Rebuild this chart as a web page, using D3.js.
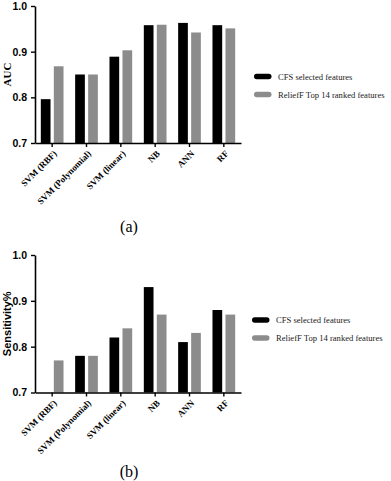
<!DOCTYPE html>
<html><head><meta charset="utf-8">
<script src="https://cdn.jsdelivr.net/npm/d3@7"></script>
<style>body{margin:0;background:#fff}svg{display:block}</style>
</head><body>
<svg id="c" width="391" height="481"></svg>
<script>
const categories = ["SVM (RBF)", "SVM (Polynomial)", "SVM (linear)", "NB", "ANN", "RF"];
const seriesNames = ["CFS selected features", "ReliefF Top 14 ranked features"];
const aucCFS = [0.796, 0.850, 0.889, 0.958, 0.963, 0.958];
const aucRelief = [0.868, 0.850, 0.903, 0.959, 0.942, 0.951];
const sensCFS = [0.70, 0.78, 0.82, 0.93, 0.81, 0.88];
const sensRelief = [0.77, 0.78, 0.84, 0.87, 0.83, 0.87];
const yTicks = [0.7, 0.8, 0.9, 1.0];
const colors = ["#000000", "#8c8c8c"];

const SERIF = "'Liberation Serif', 'Times New Roman', serif";
const SANS = "'Liberation Sans', Arial, sans-serif";
const svg = d3.select("#c");

function panel(opt) {
  const g = svg.append("g");
  const x = d3.scaleBand().domain(categories).range([35, 241]).padding(0);
  const y = d3.scaleLinear().domain([0.7, 1.0]).range([opt.bottom, opt.top]);
  const bw = 9.7, gap = 3.3;
  const series = [opt.a, opt.b];
  series.forEach((vals, si) => {
    g.selectAll(null).data(vals.map((v, i) => ({v, c: categories[i]})))
      .enter().append("rect")
      .attr("x", d => x(d.c) + x.bandwidth() / 2 + (si === 0 ? -gap / 2 - bw : gap / 2))
      .attr("width", bw)
      .attr("y", d => y(d.v))
      .attr("height", d => y(0.7) - y(d.v))
      .attr("fill", colors[si]);
  });
  // y axis
  const ya = g.append("g").attr("transform", "translate(35,0)")
    .call(d3.axisLeft(y).tickValues(yTicks).tickFormat(d3.format(".1f")).tickSize(4).tickSizeOuter(0));
  ya.selectAll("text").style("font-family", SANS)
    .attr("font-weight", "bold").attr("font-size", 10.5).attr("fill", "#000").attr("dx", "-1");
  ya.select(".domain").attr("stroke", "#000").attr("stroke-width", 1.6);
  ya.selectAll("line").attr("stroke", "#000").attr("stroke-width", 1.4);
  // x axis
  const xa = g.append("g").attr("transform", `translate(0,${opt.bottom})`)
    .call(d3.axisBottom(x).tickSize(4).tickSizeOuter(0).tickFormat(""));
  xa.selectAll("text").remove();
  xa.select(".domain").attr("stroke", "#000").attr("stroke-width", 1.6);
  xa.selectAll("line").attr("stroke", "#000").attr("stroke-width", 1.4);
  g.selectAll(null).data(categories).enter().append("text")
    .attr("transform", d => `translate(${x(d) + x.bandwidth() / 2 + 3},${opt.bottom + 9}) rotate(-45)`)
    .attr("text-anchor", "end")
    .attr("dy", "0.35em")
    .style("font-family", SERIF)
    .attr("font-weight", "bold").attr("font-size", 9).attr("fill", "#000")
    .text(d => d);
  // y title
  g.append("text")
    .attr("transform", `translate(11,${(opt.top + opt.bottom) / 2}) rotate(-90)`)
    .attr("text-anchor", "middle")
    .style("font-family", opt.titleFont)
    .attr("font-weight", "bold").attr("font-size", opt.titleSize)
    .text(opt.title);
  // legend
  seriesNames.forEach((n, i) => {
    const ly = opt.legY + i * 18;
    g.append("rect").attr("x", opt.legX).attr("y", ly - 2.7).attr("width", 17.5).attr("height", 5.4)
      .attr("rx", 2.7).attr("fill", colors[i]);
    g.append("text").attr("x", opt.legX + 24).attr("y", ly + 3)
      .style("font-family", SERIF)
      .attr("font-size", 8.6).attr("fill", "#222").text(n);
  });
  // panel label
  g.append("text").attr("x", 129).attr("y", opt.labY).attr("text-anchor", "middle")
    .style("font-family", SERIF).attr("font-size", 16)
    .text(opt.label);
}

panel({top: 6, bottom: 143, a: aucCFS, b: aucRelief, title: "AUC",
  titleFont: SERIF, titleSize: 11,
  legX: 254, legY: 76.5, label: "(a)", labY: 232});
panel({top: 255, bottom: 392.5, a: sensCFS, b: sensRelief, title: "Sensitivity%",
  titleFont: SANS, titleSize: 11,
  legX: 252, legY: 320, label: "(b)", labY: 477});
</script>
</body></html>
